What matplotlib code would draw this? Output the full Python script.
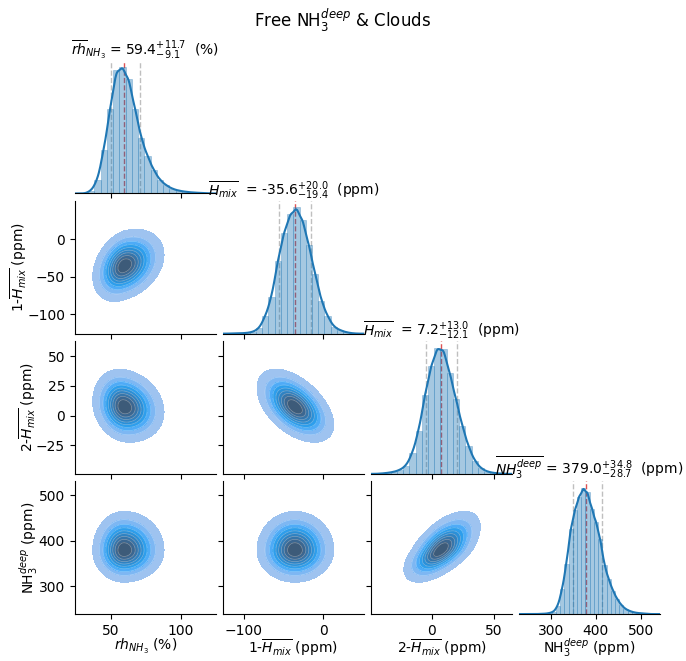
import numpy as np
import matplotlib
matplotlib.use("Agg")
import matplotlib.pyplot as plt
from matplotlib.colors import to_rgba, ListedColormap
from seaborn.external import husl

# ---------------------------------------------------------------------------
# posterior summaries: median, +err, -err
# ---------------------------------------------------------------------------
rh_summary = [59.4, 11.7, 9.1]
h1_summary = [-35.6, 20.0, 19.4]
h2_summary = [7.2, 13.0, 12.1]
nh3_summary = [379.0, 34.8, 28.7]

# marginal histograms (first edge, bin width, counts)
rh_bin0, rh_binw = 33.86, 4.46
rh_counts = [8, 38, 123, 238, 350, 358, 325, 240, 156, 106, 66, 38, 23, 13, 8, 5, 3, 2, 1]
h1_bin0, h1_binw = -115.7, 7.82
h1_counts = [1, 1, 2, 5, 15, 50, 105, 210, 292, 345, 365, 328, 255, 173, 95, 50, 20, 10, 4, 1]
h2_bin0, h2_binw = -43.0, 5.0
h2_counts = [1, 3, 6, 12, 25, 63, 130, 237, 325, 380, 375, 303, 225, 145, 83, 40, 17, 7, 3, 1]
nh3_bin0, nh3_binw = 273.7, 9.4
nh3_counts = [1, 1, 3, 7, 25, 75, 150, 255, 310, 350, 377, 363, 315, 275, 225, 145,
              105, 70, 45, 27, 15, 9, 5, 3, 2, 1]

# pairwise correlations (row, col) of the lower triangle
pair_rho = {(1, 0): 0.3, (2, 0): -0.15, (2, 1): -0.5,
            (3, 0): 0.0, (3, 1): 0.0, (3, 2): 0.6}

titles = [r"$\overline{rh}_{NH_3}$", r"$\overline{H_{mix}}$ ",
          r"$\overline{H_{mix}}$ ", r"$\overline{NH_3^{deep}}$"]
units = ["(%)", "(ppm)", "(ppm)", "(ppm)"]
axis_labels = [r"$rh_{NH_3}$ (%)", r"1-$\overline{H_{mix}}$ (ppm)",
               r"2-$\overline{H_{mix}}$ (ppm)", r"NH$_3^{deep}$ (ppm)"]
col_ticks = [[50, 100], [-100, 0], [0, 50], [300, 400, 500]]
row_ticks = [None, [-100, -50, 0], [-25, 0, 25, 50], [300, 400, 500]]
col_lims = [(24.3, 125), (-126, 51), (-49, 64.5), (229, 543)]
row_lims = [None, (-126, 51), (-49, 62.5), (239, 530)]

summaries = [rh_summary, h1_summary, h2_summary, nh3_summary]
hists = [(rh_bin0, rh_binw, rh_counts), (h1_bin0, h1_binw, h1_counts),
         (h2_bin0, h2_binw, h2_counts), (nh3_bin0, nh3_binw, nh3_counts)]


def cmap_from_color(color):
    # same light->bright->dark ramp seaborn uses for filled kde
    r, g, b, _ = to_rgba(color)
    h, s, _ = husl.rgb_to_husl(r, g, b)
    xx = np.linspace(-1, 1, int(1.15 * 256))[:256]
    ramp = np.zeros((256, 3))
    ramp[:, 0] = h
    ramp[:, 1] = s * np.cos(xx)
    ramp[:, 2] = np.linspace(35, 80, 256)
    colors = np.clip([husl.husl_to_rgb(*hsl) for hsl in ramp], 0, 1)
    return ListedColormap(colors[::-1])


def split_z(x, summ):
    med, up, lo = summ
    return np.where(x > med, (x - med) / up, (x - med) / lo)


def iso_levels(dens, props):
    vals = np.sort(dens.ravel())[::-1]
    cum = np.cumsum(vals) / vals.sum()
    idx = np.searchsorted(cum, 1 - np.asarray(props))
    return np.take(vals, idx, mode="clip")


def draw_diag(ax, i):
    bin0, binw, counts = hists[i]
    counts = np.asarray(counts, float)
    edges = bin0 + binw * np.arange(len(counts) + 1)
    dens = counts / (counts.sum() * binw)
    med, up, lo = summaries[i]

    for v in (med - lo, med + up):
        ax.axvline(v, color="gray", ls="--", lw=1.0, alpha=0.5, zorder=1)
    ax.axvline(med, color="C3", ls="--", lw=1.0, alpha=0.8, zorder=1)

    ax.bar(edges[:-1], dens, width=binw, align="edge", color="C0", alpha=0.4,
           edgecolor="C0", linewidth=0.5, zorder=2)

    # smooth the binned counts for the kde curve
    centers = edges[:-1] + binw / 2
    bw = 0.55 * binw
    xs = np.linspace(*col_lims[i], 300)
    kde = (dens * binw * np.exp(-0.5 * ((xs[:, None] - centers) / bw) ** 2)
           / (bw * np.sqrt(2 * np.pi))).sum(axis=1)
    ax.plot(xs, kde, color="C0", lw=1.5, zorder=3)

    ax.set_ylim(0, max(kde.max(), dens.max()) * 1.05)
    ax.set_yticks([])
    ax.spines[["left", "top", "right"]].set_visible(False)
    ax.set_title(f"{titles[i]} = {med:.1f}$^{{+{up:.1f}}}_{{-{lo:.1f}}}$  {units[i]}",
                 fontsize=10, pad=3.5)


def draw_pair(ax, row, col, cmap):
    rho = pair_rho[(row, col)]
    xs = np.linspace(*col_lims[col], 220)
    ys = np.linspace(*row_lims[row], 220)
    xx, yy = np.meshgrid(xs, ys)
    zx = split_z(xx, summaries[col])
    zy = split_z(yy, summaries[row])
    dens = np.exp(-0.5 * (zx ** 2 - 2 * rho * zx * zy + zy ** 2) / (1 - rho ** 2))
    levels = iso_levels(dens, np.linspace(0.05, 1, 10))
    ax.contourf(xx, yy, dens, levels=levels, cmap=cmap)
    ax.contour(xx, yy, dens, levels=levels[1:-1], colors="white",
               linewidths=0.5, alpha=0.35)
    ax.spines[["top", "right"]].set_visible(False)


fig = plt.figure(figsize=(6.86, 6.61), dpi=100)
gs = fig.add_gridspec(4, 4, left=0.109, right=0.962, top=0.908, bottom=0.071,
                      wspace=0.05, hspace=0.057)
cmap = cmap_from_color("C0")

for row in range(4):
    for col in range(row + 1):
        ax = fig.add_subplot(gs[row, col])
        if row == col:
            draw_diag(ax, row)
        else:
            draw_pair(ax, row, col, cmap)
            ax.set_ylim(*row_lims[row])
            ax.set_yticks(row_ticks[row])
            if col == 0:
                ax.set_ylabel(axis_labels[row], labelpad=-1.5)
            else:
                ax.set_yticklabels([])
        ax.set_xlim(*col_lims[col])
        ax.set_xticks(col_ticks[col])
        if row == 3:
            ax.set_xlabel(axis_labels[col], labelpad=-0.5)
        else:
            ax.set_xticklabels([])

fig.suptitle("Free NH$_3^{deep}$ & Clouds", fontsize=12, y=0.99)

plt.savefig("out.png", dpi=100)
